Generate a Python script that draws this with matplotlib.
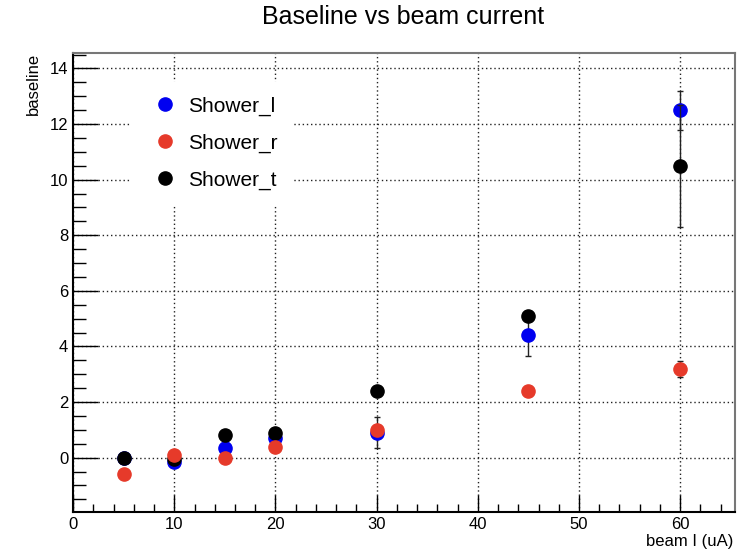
import matplotlib
matplotlib.use("Agg")
import matplotlib.pyplot as plt
from matplotlib.ticker import MultipleLocator
from matplotlib.lines import Line2D

plt.rcParams['font.family'] = ['Liberation Sans', 'DejaVu Sans']

# beam current (uA)
beam = [5, 10, 15, 20, 30, 45, 60]

# baseline per detector, with errors
shower_l = [0.0, -0.15, 0.35, 0.7, 0.9, 4.4, 12.5]
shower_l_err = [0.05, 0.05, 0.1, 0.1, 0.55, 0.75, 0.7]
shower_r = [-0.6, 0.1, 0.0, 0.4, 1.0, 2.4, 3.2]
shower_r_err = [0.05, 0.05, 0.05, 0.05, 0.1, 0.1, 0.29]
shower_t = [0.0, -0.05, 0.8, 0.9, 2.4, 5.1, 10.5]
shower_t_err = [0.05, 0.05, 0.15, 0.1, 0.1, 0.1, 2.2]

c_l, c_r, c_t = '#0000f0', '#e63a2a', 'black'

fig = plt.figure(figsize=(7.46, 5.54), dpi=100)
ax = fig.add_axes([0.098, 0.076, 0.887, 0.828])

ax.errorbar(beam, shower_l, yerr=shower_l_err, fmt='o', color=c_l, ms=9.5,
            ecolor='#222222', elinewidth=1, capsize=2, zorder=3)
ax.errorbar(beam, shower_t, yerr=shower_t_err, fmt='o', color=c_t, ms=9.5,
            ecolor='#222222', elinewidth=1, capsize=2, zorder=4)
ax.errorbar(beam, shower_r, yerr=shower_r_err, fmt='o', color=c_r, ms=9.5,
            ecolor='#222222', elinewidth=1, capsize=2, zorder=5)

ax.set_xlim(0, 65.4)
ax.set_ylim(-1.95, 14.55)
ax.xaxis.set_major_locator(MultipleLocator(10))
ax.xaxis.set_minor_locator(MultipleLocator(2))
ax.yaxis.set_major_locator(MultipleLocator(2))
ax.yaxis.set_minor_locator(MultipleLocator(0.5))
ax.tick_params(which='major', direction='in', length=12, width=1, labelsize=12,
               top=False, right=False)
ax.tick_params(axis='y', which='major', length=18)
ax.tick_params(which='minor', direction='in', length=6, width=1, top=False, right=False)
ax.tick_params(axis='y', which='minor', length=9)
ax.grid(True, which='major', linestyle=(0, (1, 2)), color='#222222', linewidth=1)

for s in ['left', 'bottom']:
    ax.spines[s].set_linewidth(1.5)
for s in ['top', 'right']:
    ax.spines[s].set_color('#777777')
    ax.spines[s].set_linewidth(1.5)

handles = [Line2D([], [], marker='o', ls='none', color=c, ms=9.5) for c in (c_l, c_r, c_t)]
ax.legend(handles, ['Shower_l', 'Shower_r', 'Shower_t'],
          loc='upper left', bbox_to_anchor=(0.07, 0.96), fontsize=15,
          frameon=True, fancybox=False, edgecolor='white', framealpha=1,
          handletextpad=0.1, labelspacing=0.85, borderpad=0.7)

fig.text(0.54, 0.97, 'Baseline vs beam current', ha='center', va='center', fontsize=18)
fig.text(0.983, 0.022, 'beam I (uA)', ha='right', va='center', fontsize=12)
fig.text(0.045, 0.904, 'baseline', ha='center', va='top', rotation=90, fontsize=12)

fig.savefig('out.png', dpi=100)
